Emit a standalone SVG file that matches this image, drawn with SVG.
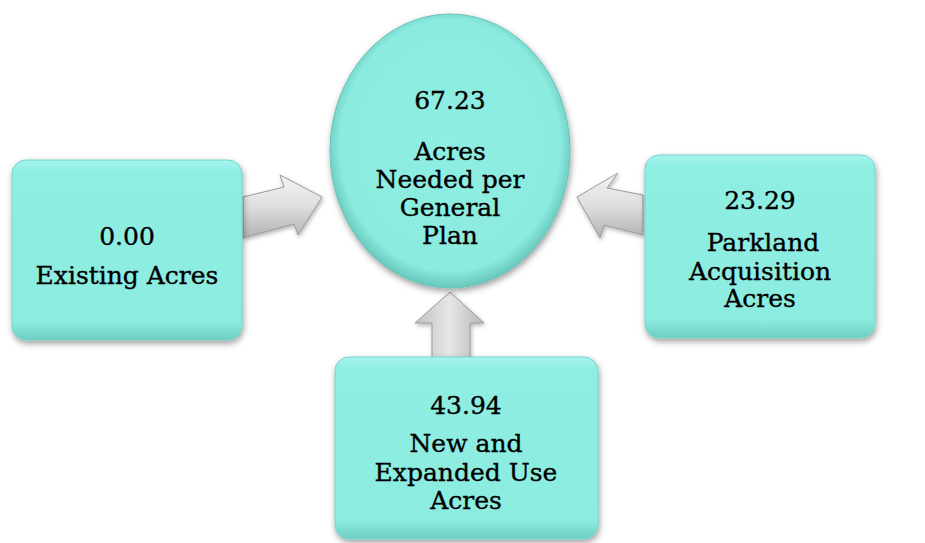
<svg xmlns="http://www.w3.org/2000/svg" width="925" height="543" viewBox="0 0 925 543">
  <defs>
    <linearGradient id="boxFill" x1="0" y1="0" x2="0" y2="1">
      <stop offset="0" stop-color="#a6f6ed"/>
      <stop offset="0.07" stop-color="#8eeee2"/>
      <stop offset="0.9" stop-color="#8cece0"/>
      <stop offset="1" stop-color="#6fcdc1"/>
    </linearGradient>
    <radialGradient id="circFill" cx="0.5" cy="0.48" r="0.52">
      <stop offset="0" stop-color="#8eeee2"/>
      <stop offset="0.88" stop-color="#8bebdf"/>
      <stop offset="1" stop-color="#68c6ba"/>
    </radialGradient>
    <linearGradient id="arrowH" x1="0" y1="0" x2="0" y2="1">
      <stop offset="0" stop-color="#f4f4f4"/>
      <stop offset="0.5" stop-color="#dedede"/>
      <stop offset="1" stop-color="#b2b2b2"/>
    </linearGradient>
    <linearGradient id="arrowV" x1="0" y1="0" x2="1" y2="0">
      <stop offset="0" stop-color="#c2c2c2"/>
      <stop offset="0.5" stop-color="#e6e6e6"/>
      <stop offset="1" stop-color="#b6b6b6"/>
    </linearGradient>
    <filter id="shadow" x="-10%" y="-10%" width="120%" height="125%">
      <feDropShadow dx="1" dy="3" stdDeviation="3" flood-color="#000" flood-opacity="0.38"/>
    </filter>
    <filter id="ashadow" x="-20%" y="-20%" width="140%" height="140%">
      <feDropShadow dx="1" dy="2" stdDeviation="2" flood-color="#000" flood-opacity="0.3"/>
    </filter>
  </defs>
  <style>
    .node { fill: url(#boxFill); stroke: #77d4c8; stroke-width: 1; filter: url(#shadow); }
    .circ { fill: url(#circFill); stroke: #66c3b7; stroke-width: 1; filter: url(#shadow); }
    .lbl { font-family: "DejaVu Serif", "Liberation Serif", serif; font-size: 25px; fill: #000; stroke: #000; stroke-width: 0.35; text-anchor: middle; }
    .arrow { stroke: #9a9a9a; stroke-width: 1; filter: url(#ashadow); }
  </style>
  <rect width="925" height="543" fill="#ffffff"/>

  <g id="connectors">
    <path class="arrow" fill="url(#arrowH)" d="M243,197 L284,187 L280,175 L322,197 L298,235 L294,224 L243,238 Z"/>
    <path class="arrow" fill="url(#arrowH)" d="M643,195 L607,188 L618,173 L577,197 L600,238 L604,225 L643,235 Z"/>
    <path class="arrow" fill="url(#arrowV)" d="M432,358 L432,323 L415,323 L450,292 L484,323 L470,323 L470,358 Z"/>
  </g>

  <g id="node-center">
    <ellipse class="circ" cx="450" cy="151" rx="120" ry="137"/>
    <text class="lbl" x="450" y="109">67.23</text>
    <text class="lbl" x="450" y="160">Acres</text>
    <text class="lbl" x="450" y="188">Needed per</text>
    <text class="lbl" x="450" y="216">General</text>
    <text class="lbl" x="450" y="244">Plan</text>
  </g>

  <g id="node-existing">
    <rect class="node" x="12" y="160" width="230" height="180" rx="14"/>
    <text class="lbl" x="127" y="245">0.00</text>
    <text class="lbl" x="127" y="284">Existing Acres</text>
  </g>

  <g id="node-parkland">
    <rect class="node" x="645" y="155" width="230" height="183" rx="14"/>
    <text class="lbl" x="760" y="209">23.29</text>
    <text class="lbl" x="763" y="251">Parkland</text>
    <text class="lbl" x="760" y="280">Acquisition</text>
    <text class="lbl" x="760" y="307">Acres</text>
  </g>

  <g id="node-expanded">
    <rect class="node" x="335" y="357" width="263" height="182" rx="14"/>
    <text class="lbl" x="466" y="414">43.94</text>
    <text class="lbl" x="466" y="452">New and</text>
    <text class="lbl" x="466" y="481">Expanded Use</text>
    <text class="lbl" x="466" y="509">Acres</text>
  </g>
</svg>
